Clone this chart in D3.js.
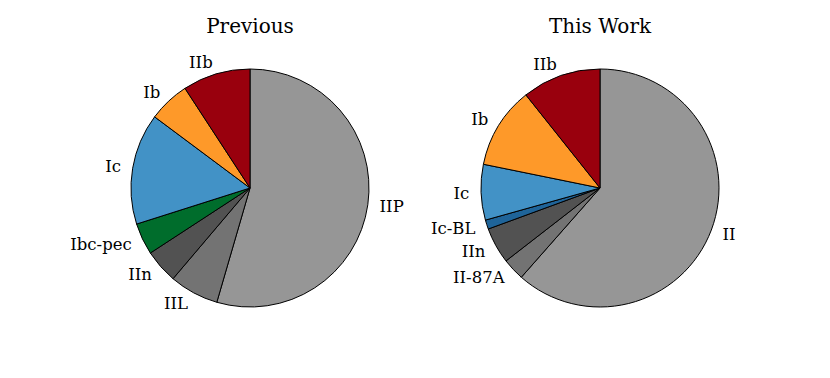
<!DOCTYPE html>
<html>
  <head>
    <meta charset="utf-8">
    <title>Previous vs This Work</title>
    <script src="https://cdn.jsdelivr.net/npm/d3@7"></script>
    <style>
      body { margin: 0; background: #fff; }
      svg text { font-family: "DejaVu Serif", serif; fill: #000; }
      .title { font-size: 20px; }
      .label { font-size: 16.5px; }
    </style>
  </head>
  <body>
    <svg id="chart" width="830" height="378"></svg>

    <script>
      // data (percent of sample)
      prevLabels = ["IIP", "IIL", "IIn", "Ibc-pec", "Ic", "Ib", "IIb"];
      prevValues = [54.5, 6.7, 4.6, 4.3, 15.1, 5.6, 9.2];
      prevColours = ["#969696", "#737373", "#525252", "#006d2c", "#4292c6", "#fe9929", "#99000d"];

      workLabels = ["II", "II-87A", "IIn", "Ic-BL", "Ic", "Ib", "IIb"];
      workValues = [61.5, 3.0, 4.9, 1.25, 7.55, 11.1, 10.7];
      workColours = ["#969696", "#737373", "#525252", "#1f6499", "#4292c6", "#fe9929", "#99000d"];

      // page elements
      svg = d3.select("#chart");
      radius = 119;

      pie = d3.pie()
        .sort(null)
        .value(function(d) { return d.value; });
      arc = d3.arc()
        .innerRadius(0)
        .outerRadius(radius);

      function drawPie(title, labels, values, colours, cx, cy) {
        var data = labels.map(function(d, i) {
          return { label: d, value: values[i], colour: colours[i] };
        });
        var g = svg.append("g")
          .attr("transform", "translate(" + cx + "," + cy + ")");

        g.selectAll(".slice")
            .data(pie(data))
          .enter().append("path")
            .classed("slice", true)
            .attr("d", arc)
            .style("fill", function(d) { return d.data.colour; })
            .style("stroke", "#000")
            .style("stroke-width", 1)
            .style("stroke-linejoin", "round");

        g.selectAll(".label")
            .data(pie(data))
          .enter().append("text")
            .classed("label", true)
            .each(function(d) {
              var a = (d.startAngle + d.endAngle) / 2;
              var r = radius * 1.1;
              d3.select(this)
                .attr("x", r * Math.sin(a))
                .attr("y", -r * Math.cos(a))
                .attr("dy", "0.35em")
                .attr("text-anchor", Math.sin(a) >= 0 ? "start" : "end");
            })
            .text(function(d) { return d.data.label; });

        svg.append("text")
          .classed("title", true)
          .attr("x", cx)
          .attr("y", 33)
          .attr("text-anchor", "middle")
          .text(title);
      }

      drawPie("Previous", prevLabels, prevValues, prevColours, 250, 188);
      drawPie("This Work", workLabels, workValues, workColours, 600, 188);
    </script>
  </body>
</html>
